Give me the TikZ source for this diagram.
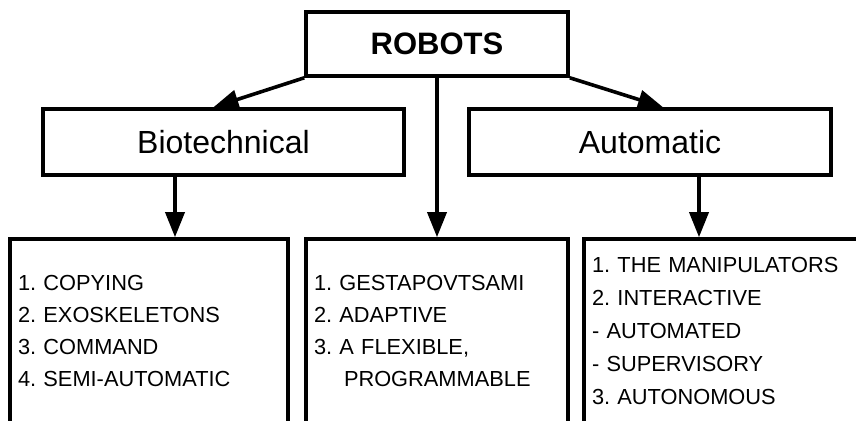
\documentclass[tikz,border=0pt]{standalone}
\usepackage{fontspec}
\setmainfont{Liberation Sans}
\usetikzlibrary{arrows.meta,positioning}

\begin{document}
\begin{tikzpicture}[
    x=1pt, y=-1pt,
    block/.style={rectangle, draw, line width=3.6pt, inner sep=0pt},
    listbox/.style={rectangle, draw, line width=3.6pt, inner xsep=8pt, inner ysep=0pt, align=left, minimum height=184pt, font=\frenchspacing\fontsize{21.8}{32}\selectfont},
    arrow/.style={-{Triangle[length=25pt,width=19pt]}, line width=3.6pt}
]
\useasboundingbox (0,0) rectangle (856,420);

\node[block, minimum width=262pt, minimum height=64pt, font=\bfseries\fontsize{31}{36}\selectfont] (robots) at (437,44) {ROBOTS};
\node[block, minimum width=361pt, minimum height=66pt, font=\fontsize{32}{38}\selectfont] (bio) at (223.5,142) {Biotechnical};
\node[block, minimum width=362pt, minimum height=66pt, font=\fontsize{32}{38}\selectfont] (auto) at (650,142) {Automatic};

\node[listbox, text width=262pt] (list1) at (149,331) {1. COPYING\\2. EXOSKELETONS\\3. COMMAND\\4. SEMI-AUTOMATIC};
\node[listbox, text width=246pt] (list2) at (437,331) {1. GESTAPOVTSAMI\\2. ADAPTIVE\\3. A FLEXIBLE,\\\hspace*{30pt}PROGRAMMABLE};
\node[listbox, text width=270pt, font=\frenchspacing\fontsize{21.8}{33}\selectfont] (list3) at (727,331) {1. THE MANIPULATORS\\2. INTERACTIVE\\- AUTOMATED\\- SUPERVISORY\\3. AUTONOMOUS};

\draw[arrow] (robots.south west) -- ([xshift=-10pt]bio.north);
\draw[arrow] (robots.south east) -- ([xshift=13pt]auto.north);
\draw[arrow] (robots.south) -- (list2.north);
\draw[arrow] ([xshift=26pt]list1.north |- bio.south) -- ([xshift=26pt]list1.north);
\draw[arrow] ([xshift=49pt]auto.south) -- ([xshift=49pt]auto.south |- list3.north);
\end{tikzpicture}
\end{document}
